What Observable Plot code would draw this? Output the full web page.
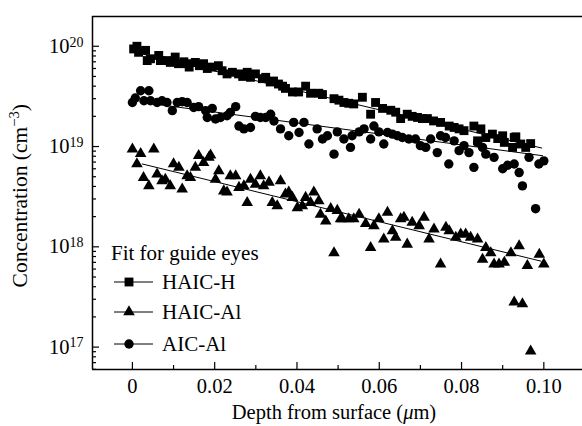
<!DOCTYPE html>
<html><head><meta charset="utf-8">
<script src="https://cdn.jsdelivr.net/npm/d3@7"></script>
<script src="https://cdn.jsdelivr.net/npm/@observablehq/plot@0.6"></script>
<style>
body{margin:0;background:#fff;}
#wrap{position:relative;width:582px;height:426px;font-family:"Liberation Serif",serif;color:#000;overflow:hidden;}
.ttl{position:absolute;font-size:20.5px;white-space:nowrap;line-height:1;}
</style></head><body><div id="wrap"></div>
<script>
// ---- data ----
const seriesNames = ["HAIC-H", "HAIC-Al", "AIC-Al"];
const legendTitle = "Fit for guide eyes";
const xTitle = "Depth from surface (";
const yTitle = "Concentration (cm";

const xMajor = [0, 0.02, 0.04, 0.06, 0.08, 0.10];
const xMinor = [0.01, 0.03, 0.05, 0.07, 0.09];
const yMajor = [1e17, 1e18, 1e19, 1e20];
const yMinorMultipliers = [2, 3, 4, 5, 6, 7, 8, 9];
const xDomain = [-0.0097, 0.1094];
const yDomain = [5.98e16, 1.98e20];

// HAIC-H (squares)
const hDepth = [0.0003,0.0011,0.0015,0.0032,0.0036,0.0044,0.0064,0.0068,0.0084,0.0092,0.0104,0.0112,0.0125,0.0133,0.0138,0.0153,0.0163,0.0173,0.0182,0.0194,0.0209,0.0218,0.023,0.0243,0.0258,0.0268,0.0279,0.0287,0.0299,0.0316,0.0324,0.0335,0.0343,0.0355,0.0365,0.0372,0.0389,0.0404,0.0421,0.0433,0.0453,0.0462,0.049,0.0502,0.0514,0.0526,0.0538,0.0559,0.0579,0.0591,0.0608,0.0628,0.064,0.0652,0.0668,0.068,0.0693,0.0705,0.0717,0.0732,0.0749,0.077,0.0782,0.0794,0.0806,0.083,0.0839,0.0847,0.0859,0.0875,0.0888,0.09,0.0904,0.0924,0.0928,0.0932,0.0944,0.0956,0.0968];
const hConc = [9.4e19,1.0e20,8.7e19,9.1e19,7.2e19,7.5e19,8.1e19,7.2e19,7.2e19,6.9e19,7.8e19,6.7e19,7.0e19,6.7e19,6.2e19,6.9e19,6.4e19,6.7e19,6.0e19,6.2e19,6.4e19,5.7e19,5.3e19,5.5e19,5.3e19,5.0e19,5.5e19,4.9e19,5.3e19,4.75e19,4.9e19,4.4e19,4.5e19,4.2e19,4.0e19,3.8e19,3.5e19,3.5e19,4.0e19,3.4e19,3.4e19,3.3e19,3.0e19,2.9e19,2.75e19,2.7e19,2.66e19,3.1e19,2.1e19,2.75e19,2.4e19,2.3e19,2.2e19,1.9e19,2.1e19,2.0e19,1.95e19,1.9e19,1.9e19,1.8e19,1.74e19,1.6e19,1.55e19,1.5e19,1.44e19,1.6e19,1.14e19,1.5e19,1.23e19,1.33e19,1.2e19,1.28e19,1.1e19,9.8e18,1.23e19,1.25e19,1.06e19,9.8e18,1.07e19];

// HAIC-Al (triangles)
const tDepth = [0,0.0011,0.002,0.0027,0.004,0.0052,0.006,0.0072,0.008,0.0092,0.01,0.0113,0.0121,0.0133,0.0141,0.0153,0.0161,0.0173,0.0186,0.019,0.0202,0.021,0.0222,0.023,0.0238,0.0251,0.0259,0.0271,0.0279,0.0287,0.0299,0.0311,0.0319,0.0332,0.034,0.0352,0.036,0.0372,0.038,0.0389,0.0401,0.0413,0.0421,0.0433,0.0441,0.0453,0.0457,0.047,0.0482,0.049,0.0498,0.0506,0.051,0.0526,0.0538,0.0551,0.0567,0.0579,0.0587,0.0599,0.0611,0.062,0.0632,0.064,0.0652,0.066,0.0668,0.068,0.0697,0.0709,0.0721,0.0733,0.0749,0.0762,0.077,0.0786,0.0798,0.081,0.0822,0.0839,0.0851,0.0859,0.0871,0.0879,0.0891,0.0904,0.092,0.0928,0.094,0.0948,0.096,0.0968,0.0989,0.1];
const tConc = [9.4e18,6.7e18,8.5e18,4.9e18,4.05e18,9.4e18,5.3e18,4.55e18,4.7e18,4.05e18,6.7e18,6.2e18,3.76e18,5.1e18,4.9e18,6.2e18,8.1e18,6.9e18,7.8e18,8.2e18,4.7e18,5.7e18,3.6e18,3.5e18,5.1e18,5.1e18,3.9e18,4.05e18,2.75e18,4.7e18,4.2e18,5.1e18,4.05e18,4.4e18,2.75e18,2.56e18,4.55e18,3.35e18,3.5e18,3.1e18,2.45e18,2.56e18,3.1e18,2.75e18,3.5e18,2.87e18,2.1e18,1.8e18,2.4e18,8.7e17,2.3e18,1.9e18,1.9e18,1.9e18,1.9e18,2.1e18,1.7e18,9.8e17,1.62e18,1.9e18,1.19e18,2.2e18,1.44e18,1.24e18,1.9e18,1.96e18,1.06e18,1.75e18,1.62e18,1.96e18,1.19e18,1.5e18,6.7e17,1.56e18,1.44e18,1.24e18,1.34e18,1.34e18,1.24e18,1.19e18,7.5e17,9.8e17,8.7e17,6.7e17,6.7e17,7.0e17,8.7e17,2.8e17,1.02e18,2.7e17,6.5e17,9.1e16,8.4e17,6.7e17];

// AIC-Al (circles)
const cDepth = [0,0.0007,0.002,0.0028,0.004,0.0044,0.006,0.0072,0.0084,0.0097,0.0109,0.0121,0.0133,0.0149,0.0161,0.0178,0.0182,0.0194,0.0202,0.0214,0.023,0.0238,0.0251,0.0259,0.0271,0.0287,0.0299,0.0311,0.0324,0.0336,0.0344,0.036,0.038,0.0392,0.0405,0.0417,0.0429,0.0449,0.0462,0.0474,0.049,0.0498,0.0514,0.053,0.0534,0.0551,0.0563,0.0579,0.0587,0.0599,0.0611,0.062,0.0632,0.0644,0.0656,0.0672,0.0688,0.07,0.0713,0.0725,0.0741,0.0749,0.0761,0.0769,0.0782,0.0794,0.0806,0.0818,0.083,0.0839,0.0851,0.0859,0.0879,0.09,0.0912,0.0928,0.094,0.0948,0.0964,0.098,0.0988,0.1];
const cConc = [2.75e19,3.05e19,3.6e19,2.86e19,3.6e19,2.86e19,2.75e19,2.86e19,2.75e19,2.28e19,2.75e19,2.8e19,2.75e19,2.45e19,2.5e19,2.28e19,1.95e19,2.4e19,1.88e19,1.95e19,2.03e19,2.19e19,2.5e19,1.6e19,1.5e19,1.55e19,2.0e19,1.95e19,1.95e19,2.1e19,1.8e19,1.5e19,1.28e19,1.74e19,1.38e19,1.74e19,1.06e19,1.5e19,1.19e19,1.28e19,8.4e18,1.4e19,1.19e19,9.8e18,1.28e19,1.4e19,1.5e19,1.19e19,1.6e19,1.4e19,1.06e19,1.38e19,1.33e19,1.28e19,1.23e19,1.19e19,1.19e19,1.02e19,9.8e18,1.19e19,8.7e18,1.28e19,1.23e19,6.7e18,1.14e19,9.1e18,1.02e19,8.7e18,6.2e18,1.1e19,9.8e18,8.4e18,7.8e18,6.0e18,6.5e18,6.7e18,5.5e18,4.05e18,7.8e18,2.4e18,6.7e18,7.2e18];

// guide-eye fit lines (start/end)
const fitH = {depth: [0.002, 0.0995], conc: [8.45e19, 9.66e18]};
const fitT = {depth: [0.0024, 0.0993], conc: [6.7e18, 7.2e17]};
const fitC = {depth: [0.002, 0.0997], conc: [2.77e19, 8.1e18]};

// ---- build tables ----
const toRows = (xs, ys, s) => xs.map((x, i) => ({x, y: ys[i], s}));
const hRows = toRows(hDepth, hConc, seriesNames[0]);
const tRows = toRows(tDepth, tConc, seriesNames[1]);
const cRows = toRows(cDepth, cConc, seriesNames[2]);
const fitRows = [
  ...toRows(fitH.depth, fitH.conc, seriesNames[0]),
  ...toRows(fitT.depth, fitT.conc, seriesNames[1]),
  ...toRows(fitC.depth, fitC.conc, seriesNames[2])
];
const yMinor = [];
for (let e = 16; e <= 20; e++) for (const m of yMinorMultipliers) {
  const v = m * Math.pow(10, e);
  if (v > yDomain[0] && v < yDomain[1]) yMinor.push(v);
}

const rSq = 5.0, rTri = 4.3, rCir = 4.7;

const plot = Plot.plot({
  width: 582, height: 426,
  marginLeft: 92, marginRight: 0, marginTop: 16, marginBottom: 57,
  style: {fontFamily: "Liberation Serif", fontSize: "20.5px", color: "#000", background: "#fff", overflow: "visible"},
  x: {domain: xDomain},
  y: {type: "log", domain: yDomain},
  marks: [
    Plot.ruleY([yDomain[1]], {stroke: "#000", strokeWidth: 1.5}),
    Plot.ruleY([yDomain[0]], {stroke: "#000", strokeWidth: 1.5}),
    Plot.ruleX([xDomain[0]], {stroke: "#000", strokeWidth: 1.5}),
    Plot.ruleX(xMajor, {y1: yDomain[0], y2: yDomain[0], insetTop: -7, stroke: "#000", strokeWidth: 1.2}),
    Plot.ruleX(xMinor, {y1: yDomain[0], y2: yDomain[0], insetTop: -4, stroke: "#000", strokeWidth: 1.2}),
    Plot.ruleY(yMajor, {x1: xDomain[0], x2: xDomain[0], insetRight: -7, stroke: "#000", strokeWidth: 1.2}),
    Plot.ruleY(yMinor, {x1: xDomain[0], x2: xDomain[0], insetRight: -4, stroke: "#000", strokeWidth: 1.2}),
    Plot.axisX({ticks: xMajor, tickSize: 0, tickPadding: 9, label: null,
      tickFormat: d => d === 0 ? "0" : d.toFixed(2)}),
    Plot.axisY({ticks: yMajor, tickSize: 0, tickPadding: 9, label: null,
      tickFormat: d => "10|" + Math.round(Math.log10(d))}),
    Plot.line(fitRows, {x: "x", y: "y", z: "s", stroke: "#000", strokeWidth: 1}),
    Plot.dot(hRows, {x: "x", y: "y", symbol: "square", r: rSq, fill: "#000", stroke: null}),
    Plot.dot(cRows, {x: "x", y: "y", symbol: "circle", r: rCir, fill: "#000", stroke: null}),
    Plot.dot(tRows, {x: "x", y: "y", symbol: "triangle", r: rTri, fill: "#000", stroke: null})
  ]
});

// superscript exponents on y tick labels
d3.select(plot).selectAll('g[aria-label="y-axis tick label"] text').each(function() {
  const t = d3.select(this);
  const [base, exp] = t.text().split("|");
  t.text(null);
  t.append("tspan").text(base);
  t.append("tspan").attr("dy", "-0.45em").attr("font-size", "0.68em").text(exp);
});

const wrap = document.getElementById("wrap");
wrap.appendChild(plot);

// axis titles
const xt = document.createElement("div");
xt.className = "ttl";
xt.innerHTML = xTitle + "<i>μ</i>m)";
xt.style.top = "402px";
wrap.appendChild(xt);
xt.style.left = (334 - xt.getBoundingClientRect().width / 2) + "px";

const yt = document.createElement("div");
yt.className = "ttl";
yt.style.fontSize = "21.5px";
yt.innerHTML = yTitle + "<sup style='font-size:0.68em;vertical-align:0.55em;line-height:0'>−3</sup>)";
wrap.appendChild(yt);
const yb = yt.getBoundingClientRect();
yt.style.left = (21 - yb.width / 2) + "px";
yt.style.top = (196 - yb.height / 2) + "px";
yt.style.transform = "rotate(-90deg)";

// legend (inside plot area)
const leg = d3.select(wrap).append("svg")
  .attr("width", 200).attr("height", 130)
  .style("position", "absolute").style("left", "100px").style("top", "235px")
  .style("font-family", "Liberation Serif").style("font-size", "21px");
leg.append("text").attr("x", 11).attr("y", 25).text(legendTitle);
const legRows = [
  {name: seriesNames[0], sym: d3.symbolSquare, size: Math.PI * rSq * rSq, y: 47},
  {name: seriesNames[1], sym: d3.symbolTriangle, size: Math.PI * rTri * rTri, y: 77},
  {name: seriesNames[2], sym: d3.symbolCircle, size: Math.PI * rCir * rCir, y: 109}
];
for (const r of legRows) {
  leg.append("line").attr("x1", 14).attr("x2", 53).attr("y1", r.y).attr("y2", r.y).attr("stroke", "#000").attr("stroke-width", 1);
  leg.append("path").attr("d", d3.symbol(r.sym, r.size)()).attr("transform", `translate(29,${r.y})`).attr("fill", "#000");
  leg.append("text").attr("x", 62).attr("y", r.y + 7).text(r.name);
}
</script>
</body></html>
